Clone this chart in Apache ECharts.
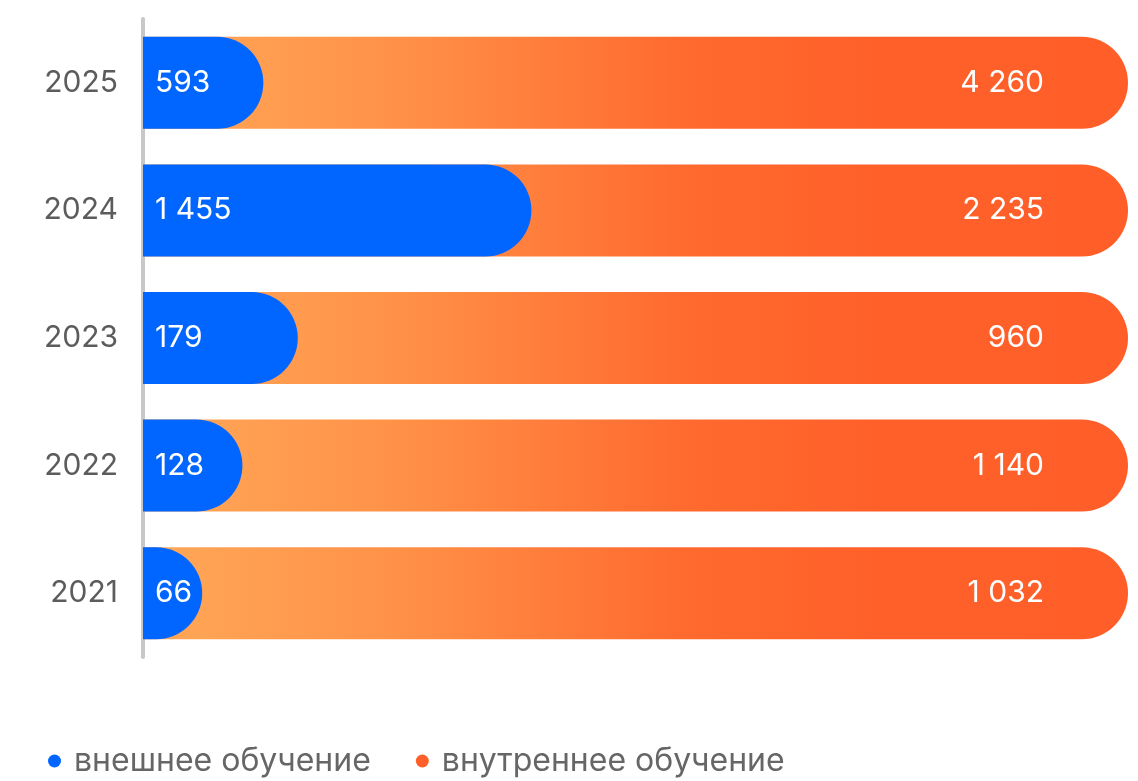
<!DOCTYPE html>
<html>
<head>
<meta charset="utf-8">
<style>
  html, body { margin: 0; padding: 0; background: #ffffff; }
  #chart { width: 1138px; height: 781px; }
</style>
<script src="https://cdn.jsdelivr.net/npm/echarts@6/dist/echarts.min.js"></script>
</head>
<body>
<div id="chart"></div>
<script>
// Training volume by year: external vs internal
const years = ['2021', '2022', '2023', '2024', '2025'];
const externalTraining = [66, 128, 179, 1455, 593];
const internalTraining = [1032, 1140, 960, 2235, 4260];
const seriesNames = ['внешнее обучение', 'внутреннее обучение'];

const BLUE = '#0066FF';
const ORANGE = '#FF6029';
const FONT = 'Inter, "Noto Sans", sans-serif';

// Each row is shown as shares of that year's total (100%)
const totals = years.map((_, i) => externalTraining[i] + internalTraining[i]);
const externalShare = externalTraining.map((v, i) => v / totals[i] * 100);
const totalShare = totals.map(() => 100);

const fmt = v => String(v).replace(/\B(?=(\d{3})+(?!\d))/g, ' ');

const orangeGradient = new echarts.graphic.LinearGradient(0, 0, 1, 0, [
  { offset: 0, color: '#FFA858' },
  { offset: 0.25, color: '#FF9248' },
  { offset: 0.55, color: '#FF6A2E' },
  { offset: 0.75, color: '#FF6029' },
  { offset: 1, color: '#FF5E28' }
]);

const chart = echarts.init(document.getElementById('chart'));
chart.setOption({
  animation: false,
  textStyle: { fontFamily: FONT },
  grid: { left: 143, right: 10, top: 19, height: 638, containLabel: false },
  xAxis: {
    type: 'value', min: 0, max: 100, show: false
  },
  yAxis: {
    type: 'category',
    data: years,
    offset: 3,
    axisLine: { show: true, lineStyle: { color: '#C8C8C8', width: 4 } },
    axisTick: { show: false },
    axisLabel: { color: '#5C5C5C', fontSize: 30, margin: 22, fontFamily: FONT }
  },
  legend: {
    left: 43,
    top: 740,
    icon: 'circle',
    itemWidth: 29,
    itemHeight: 13,
    itemGap: 45,
    textStyle: { color: '#666666', fontSize: 32, fontFamily: FONT },
    data: [
      { name: seriesNames[0], itemStyle: { color: BLUE } },
      { name: seriesNames[1], itemStyle: { color: ORANGE } }
    ]
  },
  series: [
    {
      name: seriesNames[1],
      type: 'bar',
      data: totalShare,
      barWidth: 92,
      barGap: '-100%',
      z: 2,
      itemStyle: { color: orangeGradient, borderRadius: [0, 46, 46, 0] },
      label: {
        show: true,
        position: 'insideRight',
        distance: 84,
        color: '#FFFFFF',
        fontSize: 30,
        fontFamily: FONT,
        formatter: p => fmt(internalTraining[p.dataIndex])
      }
    },
    {
      name: seriesNames[0],
      type: 'bar',
      data: externalShare,
      barWidth: 92,
      barGap: '-100%',
      z: 3,
      itemStyle: { color: BLUE, borderRadius: [0, 46, 46, 0] },
      label: {
        show: true,
        position: 'insideLeft',
        distance: 12,
        color: '#FFFFFF',
        fontSize: 30,
        fontFamily: FONT,
        formatter: p => fmt(externalTraining[p.dataIndex])
      }
    }
  ]
});
</script>
</body>
</html>
